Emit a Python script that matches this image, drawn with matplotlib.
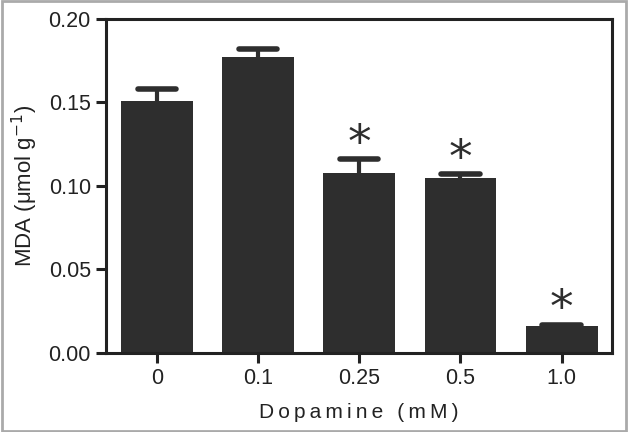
import matplotlib
matplotlib.use("Agg")
import matplotlib.pyplot as plt
from matplotlib.patches import Rectangle

# data
doses = ["0", "0.1", "0.25", "0.5", "1.0"]
mda = [0.151, 0.177, 0.108, 0.105, 0.016]
mda_err = [0.007, 0.005, 0.008, 0.002, 0.001]
significant = [False, False, True, True, True]

plt.rcParams["font.family"] = ["Liberation Sans", "DejaVu Sans"]

fig = plt.figure(figsize=(6.28, 4.32), dpi=100)
ax = fig.add_axes([0.169, 0.183, 0.806, 0.773])

dark = "#2e2e2e"
x = list(range(len(doses)))
ax.bar(x, mda, width=0.71, color=dark, zorder=2)

# upper error bars only (stem + cap)
tops = [v + e for v, e in zip(mda, mda_err)]
ax.vlines(x, mda, tops, color=dark, linewidth=3, zorder=1)
ax.hlines(tops, [xi - 0.19 for xi in x], [xi + 0.19 for xi in x],
          color=dark, linewidth=4, zorder=1, capstyle="round")

for xi, t, sig in zip(x, tops, significant):
    if sig:
        ax.text(xi, t + 0.009, "*", ha="center", va="center",
                fontsize=34, color=dark, family="DejaVu Sans")

ax.set_xlim(-0.5, 4.5)
ax.set_ylim(0, 0.20)
ax.set_yticks([0.00, 0.05, 0.10, 0.15, 0.20])
ax.set_yticklabels(["0.00", "0.05", "0.10", "0.15", "0.20"])
ax.set_xticks(x)
ax.set_xticklabels(doses)

for s in ax.spines.values():
    s.set_linewidth(2.2)
    s.set_color("#222222")
ax.tick_params(direction="out", length=7, width=2.2, labelsize=15.5,
               color="#222222", labelcolor="#222222", pad=4)

xlabel = "\u2009".join("Dopamine (mM)")
ax.set_xlabel(xlabel, fontsize=15, color="#222222", labelpad=10)
ax.set_ylabel("MDA (μmol g$^{-1}$)", fontsize=16, color="#222222", labelpad=6)

# thin grey frame around the whole figure
fig.patches.append(Rectangle((0.003, 0.003), 0.994, 0.994, transform=fig.transFigure,
                             fill=False, edgecolor="#aaaaaa", linewidth=2))

fig.savefig("out.png", dpi=100)
